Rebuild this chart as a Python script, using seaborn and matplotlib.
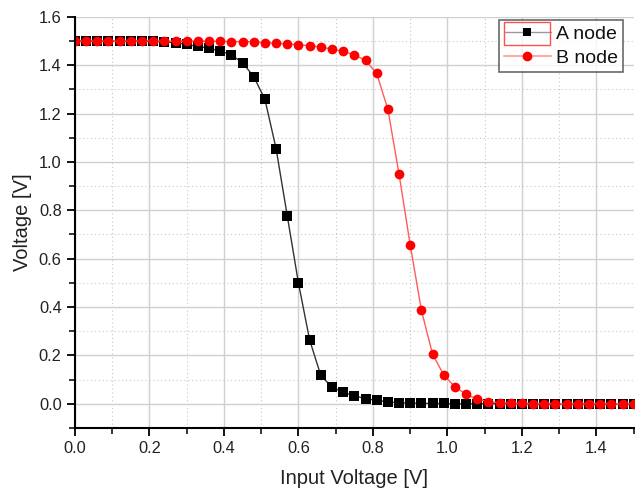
import numpy as np
import pandas as pd
import matplotlib
matplotlib.use("Agg")
import matplotlib.pyplot as plt
import seaborn as sns
from matplotlib.ticker import MultipleLocator, FormatStrFormatter
from matplotlib.patches import Rectangle
from matplotlib.lines import Line2D

# Input voltage sweep [V]
vin = [0.00, 0.03, 0.06, 0.09, 0.12, 0.15, 0.18, 0.21, 0.24, 0.27,
       0.30, 0.33, 0.36, 0.39, 0.42, 0.45, 0.48, 0.51, 0.54, 0.57,
       0.60, 0.63, 0.66, 0.69, 0.72, 0.75, 0.78, 0.81, 0.84, 0.87,
       0.90, 0.93, 0.96, 0.99, 1.02, 1.05, 1.08, 1.11, 1.14, 1.17,
       1.20, 1.23, 1.26, 1.29, 1.32, 1.35, 1.38, 1.41, 1.44, 1.47, 1.50]

a_node = [1.500, 1.500, 1.500, 1.500, 1.500, 1.500, 1.500, 1.499, 1.497, 1.493,
          1.486, 1.478, 1.470, 1.459, 1.443, 1.410, 1.353, 1.259, 1.055, 0.777,
          0.499, 0.264, 0.117, 0.069, 0.047, 0.033, 0.021, 0.014, 0.008, 0.004,
          0.003, 0.002, 0.001, 0.001, 0.000, 0.000, 0.000, 0.000, 0.000, 0.000,
          0.000, 0.000, 0.000, 0.000, 0.000, 0.000, 0.000, 0.000, 0.000, 0.000, 0.000]

b_node = [1.500, 1.500, 1.500, 1.500, 1.500, 1.500, 1.500, 1.500, 1.500, 1.500,
          1.500, 1.500, 1.499, 1.499, 1.498, 1.498, 1.497, 1.494, 1.491, 1.488,
          1.485, 1.481, 1.475, 1.467, 1.457, 1.443, 1.420, 1.366, 1.218, 0.950,
          0.657, 0.387, 0.205, 0.119, 0.070, 0.039, 0.019, 0.009, 0.004, 0.002,
          0.001, 0.000, 0.000, 0.000, 0.000, 0.000, 0.000, 0.000, 0.000, 0.000, 0.000]

df = pd.DataFrame({
    "vin": vin * 2,
    "v": a_node + b_node,
    "node": ["A node"] * len(vin) + ["B node"] * len(vin),
})

sns.set_style("white")
plt.rcParams['font.family'] = ['Liberation Sans', 'DejaVu Sans']

fig = plt.figure(figsize=(6.35, 4.97), dpi=100)
ax = fig.add_axes([0.118, 0.139, 0.88, 0.827])

# grid under the data
ax.set_axisbelow(True)
ax.grid(which="major", color="#d0d0d0", linewidth=1.0, linestyle="-")
ax.grid(which="minor", color="#c8c8c8", linewidth=0.8, linestyle=(0, (1, 2.5)))

sns.lineplot(data=df, x="vin", y="v", hue="node", style="node",
             markers={"A node": "s", "B node": "o"}, dashes=False,
             palette={"A node": "#333333", "B node": "#ff5a5a"},
             linewidth=1.0, markersize=7, markeredgewidth=0,
             ax=ax, legend=False)

# marker colours differ from line colours
lines = ax.get_lines()
lines[0].set_markerfacecolor("black")
lines[1].set_markerfacecolor("#ff0000")

ax.set_xlim(0, 1.5)
ax.set_ylim(-0.1, 1.6)
ax.xaxis.set_major_locator(MultipleLocator(0.2))
ax.xaxis.set_minor_locator(MultipleLocator(0.1))
ax.yaxis.set_major_locator(MultipleLocator(0.2))
ax.yaxis.set_minor_locator(MultipleLocator(0.1))
ax.xaxis.set_major_formatter(FormatStrFormatter("%.1f"))
ax.yaxis.set_major_formatter(FormatStrFormatter("%.1f"))

for s in ["top", "right"]:
    ax.spines[s].set_visible(False)
for s in ["left", "bottom"]:
    ax.spines[s].set_color("black")
    ax.spines[s].set_linewidth(1.5)

ax.tick_params(which="major", direction="out", length=6, width=1.3,
               labelsize=11.8, colors="black", bottom=True, left=True)
ax.tick_params(which="minor", direction="out", length=4, width=1.3,
               bottom=True, left=True)
for lbl in ax.get_xticklabels() + ax.get_yticklabels():
    lbl.set_color("#222222")

ax.set_xlabel("Input Voltage [V]", fontsize=14.5, color="#222222", labelpad=9)
ax.set_ylabel("Voltage [V]", fontsize=14.5, color="#222222", labelpad=5)

# legend handles: lighter lines like the original
h_a = Line2D([], [], color="#999999", linewidth=1.0, marker="s",
             markersize=6, markerfacecolor="black", markeredgewidth=0)
h_b = Line2D([], [], color="#ffaaaa", linewidth=1.5, marker="o",
             markersize=7, markerfacecolor="#ff0000", markeredgewidth=0)
leg = ax.legend(handles=[h_a, h_b], labels=["A node", "B node"],
                loc="upper right", bbox_to_anchor=(0.980, 0.992),
                fontsize=14, frameon=True, fancybox=False,
                edgecolor="#444444", handlelength=2.4, borderpad=0.25,
                labelspacing=0.35, handletextpad=0.25, borderaxespad=0)
leg.get_frame().set_linewidth(1.2)
for t in leg.get_texts():
    t.set_color("#111111")

# Origin-style selection box around the first legend entry
fig.patches.append(Rectangle((504 / 635, 1 - 44.5 / 497), 46 / 635, 23 / 497,
                             transform=fig.transFigure, fill=False,
                             edgecolor="#ff5050", linewidth=1.0, zorder=10))

fig.savefig("out.png", dpi=100)
